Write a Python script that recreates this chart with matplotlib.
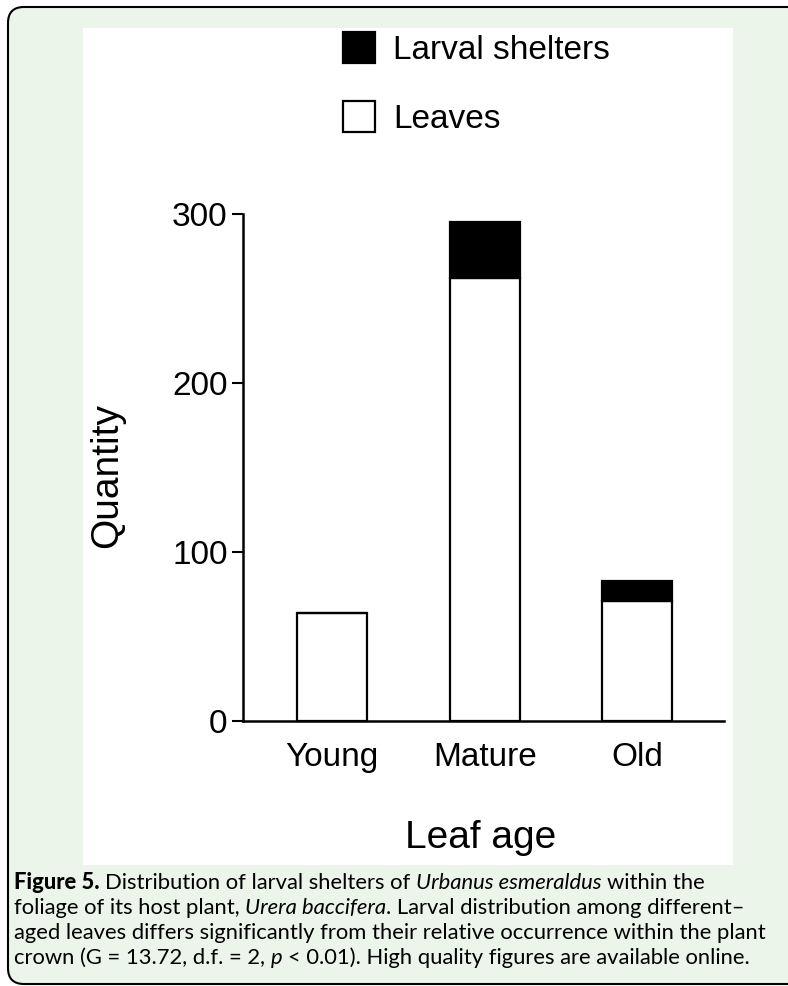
import matplotlib.pyplot as plt
from matplotlib.patches import FancyBboxPatch, Rectangle
from matplotlib.transforms import IdentityTransform

plt.rcParams['font.family'] = ['Liberation Sans', 'DejaVu Sans']

# data
categories = ['Young', 'Mature', 'Old']
leaves = [64, 262, 71]
shelters = [0, 33, 12]
yticks = [0, 100, 200, 300]

W, H = 788, 986
CAP_FONT = ['Lato', 'DejaVu Sans']
CAP_SIZE = 15.8


def fx(x):
    return x / W


def fy(y):
    return 1 - y / H


fig = plt.figure(figsize=(W / 100, H / 100), dpi=100)
fig.patch.set_facecolor('white')

# green rounded frame and white panel behind the chart
frame = FancyBboxPatch((8, H - 984), 800, 977,
                       boxstyle='round,pad=0,rounding_size=16',
                       transform=IdentityTransform(),
                       fc='#ebf5ea', ec='black', lw=1.5, zorder=-2)
fig.add_artist(frame)
panel = Rectangle((83, H - 865), 650, 837, transform=IdentityTransform(),
                  fc='white', ec='none', zorder=-1)
fig.add_artist(panel)

ax = fig.add_axes([fx(243), fy(721), (724 - 243) / W, (721 - 213.5) / H])
ax.patch.set_alpha(0)

x = range(len(categories))
b1 = ax.bar(x, leaves, width=0.458, color='white', edgecolor='black',
            linewidth=1.6, label='Leaves')
b2 = ax.bar(x, shelters, width=0.458, bottom=leaves, color='black',
            edgecolor='black', linewidth=1.6, label='Larval shelters')

ax.set_xlim(-0.582, 2.567)
ax.set_ylim(0, 300)
ax.set_yticks(yticks)
ax.set_xticks(list(x))
ax.set_xticklabels(categories)
for s in ['top', 'right']:
    ax.spines[s].set_visible(False)
for s in ['left', 'bottom']:
    ax.spines[s].set_linewidth(1.8)
ax.tick_params(axis='y', length=8, width=1.5, pad=3, labelsize=24)
ax.tick_params(axis='x', length=0, pad=15, labelsize=24)

ax.set_ylabel('Quantity', fontsize=28)
ax.yaxis.set_label_coords((125 - 243) / 481, (721 - 475) / 508)
fig.text(fx(481), fy(848), 'Leaf age', fontsize=28, ha='center', va='baseline')

ax.legend([b2, b1], ['Larval shelters', 'Leaves'], loc='upper left',
          bbox_to_anchor=(fx(343), fy(32)), bbox_transform=fig.transFigure,
          frameon=False, fontsize=24, borderpad=0, borderaxespad=0,
          handlelength=0.96, handleheight=1.05, handletextpad=0.54,
          labelspacing=1.05)

# caption with mixed bold / italic pieces
caption = [
    [('Figure 5.', 'black', 'normal'),
     (' Distribution of larval shelters of ', 'normal', 'normal'),
     ('Urbanus esmeraldus', 'normal', 'italic'),
     (' within the', 'normal', 'normal')],
    [('foliage of its host plant, ', 'normal', 'normal'),
     ('Urera baccifera', 'normal', 'italic'),
     ('. Larval distribution among different\u2013', 'normal', 'normal')],
    [('aged leaves differs significantly from their relative occurrence within the plant',
      'normal', 'normal')],
    [('crown (G = 13.72, d.f. = 2, ', 'normal', 'normal'),
     ('p', 'normal', 'italic'),
     (' < 0.01). High quality figures are available online.', 'normal', 'normal')],
]
baselines = [889, 914, 939, 964]

r = fig.canvas.get_renderer()


def text_w(s, weight='normal', style='normal'):
    t = fig.text(0, 0, s, fontsize=CAP_SIZE, family=CAP_FONT,
                 weight=weight, style=style)
    w = t.get_window_extent(renderer=r).width
    t.remove()
    return w


space_w = text_w('x x') - text_w('xx')

for line, base in zip(caption, baselines):
    xp = 14
    for s, weight, style in line:
        if s.startswith(' '):
            xp += space_w
        core = s.strip(' ')
        t = fig.text(fx(xp), fy(base), core, fontsize=CAP_SIZE, family=CAP_FONT,
                     weight=weight, style=style, va='baseline', color='black')
        xp += t.get_window_extent(renderer=r).width
        if s.endswith(' '):
            xp += space_w

fig.savefig('out.png', dpi=100)
